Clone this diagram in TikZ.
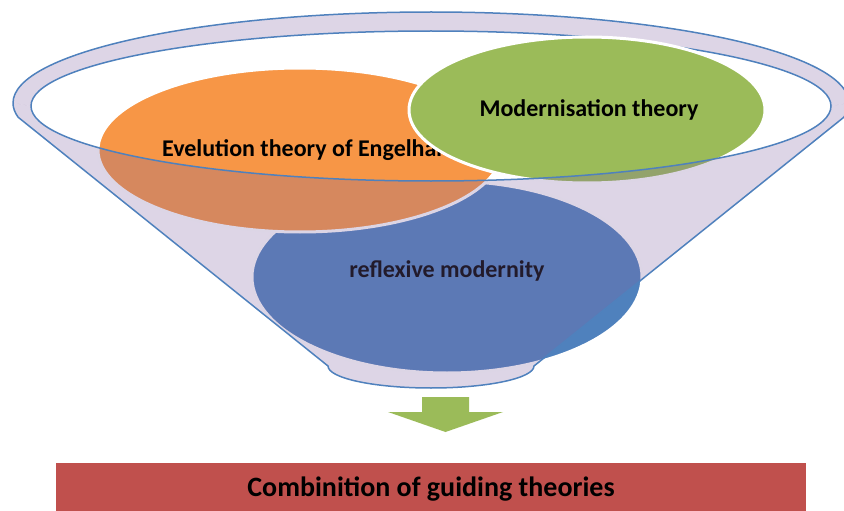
\documentclass[tikz,border=0pt]{standalone}
\usepackage{fontspec}
\setmainfont{Carlito}
\usetikzlibrary{shapes.geometric}
\definecolor{rimblue}{HTML}{4F81BD}
\definecolor{funnelpurple}{HTML}{8064A2}
\definecolor{theoryorange}{HTML}{F79646}
\definecolor{theorygreen}{HTML}{9BBB59}
\definecolor{theoryblue}{HTML}{4F81BD}
\definecolor{resultred}{HTML}{C0504D}

\begin{document}
\begin{tikzpicture}[x=1pt, y=-1pt]
    \tikzset{theory/.style={ellipse, draw=white, line width=3pt, inner sep=0pt},
             theory text/.style={font=\bfseries\fontsize{24}{28}\selectfont, anchor=base, inner sep=0pt},
             rim/.style={draw=rimblue, line width=1.5pt},
             outer rim/.style={x radius=418pt, y radius=91pt},
             inner rim/.style={x radius=400pt, y radius=75pt}}
    \useasboundingbox (0,0) rectangle (844,511);

    % Funnel rim (back)
    \fill[funnelpurple, opacity=0.27] (13,103) arc[start angle=180, end angle=0, outer rim] -- (831,106) arc[start angle=0, end angle=180, inner rim] -- cycle;
    \draw[rim] (13,103) arc[start angle=180, end angle=-9, outer rim] coordinate (rimR);
    \draw[rim] (31,106) arc[start angle=180, end angle=0, inner rim];

    % Theories
    \node[theory, fill=theoryblue, minimum width=390pt, minimum height=192pt] (reflexive) at (447,277) {};
    \node[theory text] (reflexivetext) at (447,277) {reflexive modernity};
    \node[theory, fill=theoryorange, minimum width=404pt, minimum height=164pt] (evolution) at (300,150) {};
    \node[theory text] (evolutiontext) at (314,157) {Evelution theory of Engelhardt};
    \node[theory, fill=theorygreen, minimum width=356pt, minimum height=146pt] (modern) at (587,110) {};
    \node[theory text] (moderntext) at (589,117) {Modernisation theory};

    % Funnel body (front)
    \fill[funnelpurple, opacity=0.27] (13,103) arc[start angle=180, end angle=189, outer rim] -- (328,366)
        arc[start angle=180, end angle=360, x radius=103pt, y radius=22pt] -- (rimR)
        arc[start angle=-9, end angle=0, outer rim] -- (831,106) arc[start angle=0, end angle=-180, inner rim] -- cycle;
    \draw[rim] (13,103) arc[start angle=180, end angle=189, outer rim] -- (328,366)
        arc[start angle=180, end angle=360, x radius=103pt, y radius=22pt] -- (rimR);
    \draw[rim] (831,106) arc[start angle=0, end angle=-180, inner rim];

    % Result
    \fill[theorygreen] (422,397) -- (469,397) -- (469,412) -- (503,412) -- (445.5,432) -- (388,412) -- (422,412) -- cycle;
    \node[fill=resultred, minimum width=750pt, minimum height=48pt, inner sep=0pt, text depth=0pt,
          font=\bfseries\fontsize{28}{32}\selectfont] (combined) at (431,487) {Combinition of guiding theories};
\end{tikzpicture}
\end{document}
